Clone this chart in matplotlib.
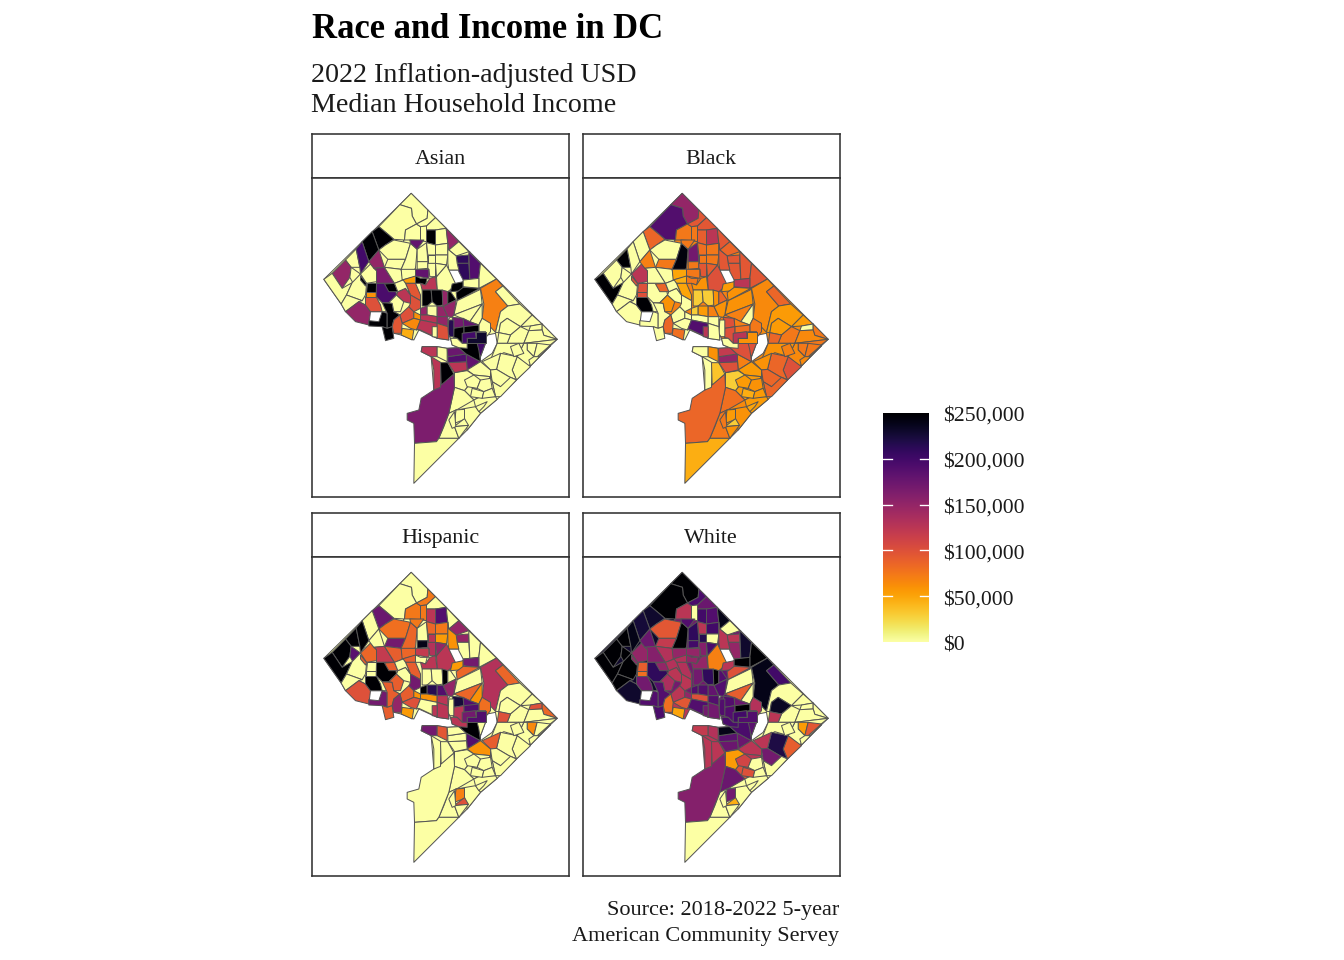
import numpy as np
import matplotlib
matplotlib.use('Agg')
import matplotlib.pyplot as plt
from matplotlib.collections import PolyCollection
from matplotlib.colors import Normalize

plt.rcParams['font.family'] = ['Liberation Serif', 'DejaVu Sans']

# Larger areas drawn first, they fill whatever the tract outlines below leave open
base_areas = [
    [(268,74),(320,130),(285,238),(278,300),(262,335),(245,370),(250,395),(215,395),(180,395),(165,375),(145,365),(105,395),(92,372),(40,298)],
    [(302,40),(478,216),(470,260),(445,270),(415,270),(420,335),(412,380),(380,420),(330,420),(275,430),(268,405),(250,395),(262,335),(278,300),(285,238),(268,74)],
    [(458,305),(478,216),(558,296),(740,478),(720,497),(660,558),(618,600),(560,658),(510,700),(470,750),(445,775),(432,740),(415,700),(432,622),(432,578),(470,570),(510,545),(545,520),(560,490),(555,460),(530,465),(515,415),(505,325)],
    [(420,335),(458,305),(505,325),(515,415),(525,455),(527,475),(525,490),(510,530),(510,545),(470,520),(445,503),(425,495),(420,475),(412,460),(412,420),(425,405)],
    [(370,630),(362,530),(332,515),(335,500),(380,500),(410,505),(445,503),(470,520),(470,570),(432,578),(430,582)],
    [(245,440),(250,420),(268,405),(330,420),(412,420),(415,480),(380,475),(325,450),(310,480),(272,465),(250,460)],
]
asian_base = [0, 0, 0, 0, 0, 0]
black_base = [0, 70, 65, 70, 0, 0]
hispanic_base = [0, 0, 0, 0, 0, 0]
white_base = [230, 170, 0, 180, 125, 125]

# Rough census tract outlines for DC
tracts = [
    # north west
    [(302,40),(352,90),(350,115),(318,132),(305,108),(303,85),(268,74)],
    [(268,74),(303,85),(305,108),(318,132),(285,150),(282,180),(250,178),(235,165),(205,140)],
    [(185,155),(205,140),(235,165),(250,178),(225,195),(205,210)],
    [(155,185),(185,155),(205,210),(175,245)],
    [(105,240),(137,207),(148,262),(122,262)],
    [(137,207),(155,185),(175,245),(150,282),(148,262)],
    [(65,280),(105,240),(122,262),(118,292),(95,325)],
    [(40,298),(65,280),(95,325),(125,308),(108,345),(92,372)],
    [(122,262),(150,282),(128,310),(118,292)],
    [(125,308),(150,282),(168,315),(165,345),(155,362),(108,345)],
    # west
    [(92,372),(108,345),(155,362),(145,365),(105,395)],
    [(105,395),(145,365),(165,375),(180,395),(175,435),(135,425)],
    [(175,422),(205,425),(215,395),(230,400),(230,445),(215,440),(175,438)],
    [(215,368),(245,370),(250,395),(268,405),(250,420),(245,440),(230,445),(230,400)],
    [(215,440),(230,445),(245,440),(250,475),(225,482)],
    [(165,350),(197,350),(210,375),(215,395),(205,395),(180,395),(165,375)],
    [(165,335),(197,335),(197,350),(165,350)],
    [(168,308),(197,308),(197,335),(165,335)],
    [(150,282),(180,252),(198,272),(198,305),(168,310)],
    [(150,288),(168,310),(165,318),(150,300)],
    # upper north west
    [(175,245),(205,210),(222,262),(190,265),(180,252)],
    [(190,265),(222,262),(252,310),(198,310),(198,272)],
    [(198,310),(252,310),(258,345),(235,368),(215,368),(197,350)],
    [(222,312),(252,310),(262,335),(235,335)],
    [(205,210),(225,195),(250,180),(300,190),(285,238),(232,238)],
    [(232,238),(285,238),(272,268),(222,262)],
    [(222,262),(272,268),(278,300),(252,310)],
    [(300,190),(320,208),(315,265),(285,295),(278,300),(272,268),(285,238)],
    [(285,150),(318,132),(330,140),(330,182),(298,180),(282,180)],
    [(350,115),(352,90),(375,113),(348,138),(330,140),(318,132)],
    # north
    [(330,140),(348,138),(348,185),(330,182)],
    [(298,180),(340,180),(320,208),(300,190)],
    [(348,138),(375,113),(407,145),(375,150),(348,150)],
    [(348,150),(375,150),(375,195),(348,188)],
    [(375,150),(407,145),(412,190),(375,195)],
    [(407,145),(445,185),(415,210),(412,190)],
    [(445,185),(475,215),(437,228),(415,210)],
    [(437,228),(475,225),(475,250),(440,250)],
    [(440,250),(475,250),(478,298),(458,300),(445,275)],
    [(475,215),(510,250),(505,295),(478,298),(475,225)],
    # north centre
    [(510,250),(558,297),(505,325),(505,295)],
    [(320,208),(348,188),(352,245),(320,245)],
    [(348,188),(375,195),(375,225),(352,225)],
    [(375,195),(412,190),(412,225),(375,225)],
    [(352,225),(375,225),(375,250),(352,250)],
    [(375,225),(412,225),(408,255),(375,250)],
    [(412,190),(415,210),(437,228),(440,250),(445,270),(415,270),(412,250)],
    [(320,245),(352,245),(352,265),(320,268)],
    [(352,250),(375,250),(375,290),(358,290),(355,268),(352,265)],
    [(378,290),(408,255),(437,315),(412,335),(380,330)],
    # downtown
    [(375,250),(408,255),(378,290)],
    [(272,268),(315,268),(315,290),(275,300)],
    [(275,300),(315,288),(315,310),(285,310)],
    [(315,268),(355,268),(355,295),(315,288)],
    [(315,288),(330,295),(350,295),(345,315),(330,310),(315,310)],
    [(285,310),(315,310),(330,345),(330,362),(300,345)],
    [(330,310),(345,315),(358,295),(375,290),(380,330),(362,330),(350,330),(335,330)],
    [(335,330),(362,330),(365,365),(350,378),(335,378)],
    [(362,330),(395,330),(398,375),(380,378),(365,365)],
    [(395,330),(412,335),(412,372),(397,380)],
    # north east
    [(412,335),(420,335),(437,360),(412,372)],
    [(420,335),(425,312),(458,305),(458,332)],
    [(458,300),(478,298),(505,295),(505,325),(458,320)],
    [(458,322),(508,325),(440,362),(437,338)],
    [(440,362),(510,328),(515,372),(430,405)],
    [(510,325),(558,297),(577,318),(555,335),(592,378),(570,395),(555,457),(515,415),(520,372)],
    [(555,335),(577,318),(628,372),(592,378)],
    [(628,372),(665,405),(630,440),(590,415),(570,430),(565,458),(555,457),(570,395),(592,378)],
    [(590,415),(630,440),(600,465),(565,458),(570,430)],
    [(630,440),(665,405),(695,432),(660,438)],
    # east point
    [(660,438),(695,432),(695,450),(655,452)],
    [(695,432),(740,478),(700,466),(695,450)],
    [(600,465),(630,440),(655,452),(640,490),(590,490)],
    [(655,452),(695,450),(700,466),(740,478),(640,490)],
    [(565,458),(600,465),(590,490),(560,490)],
    [(640,490),(740,478),(700,510),(665,500)],
    [(650,490),(680,490),(670,530),(650,510)],
    [(680,490),(720,495),(680,530),(670,530)],
    [(640,490),(650,490),(650,510),(670,530),(655,560),(620,530)],
    [(620,530),(660,560),(618,600),(605,570)],
    # south east
    [(670,530),(685,530),(720,497),(660,558),(655,540)],
    [(560,490),(640,490),(620,530),(580,518),(540,540)],
    [(570,520),(620,530),(605,570),(618,600),(595,590),(558,568)],
    [(515,545),(570,520),(558,568),(540,570)],
    [(467,522),(510,545),(470,570)],
    [(470,570),(510,545),(540,570),(540,590),(490,585)],
    [(540,570),(558,568),(595,590),(618,600),(600,618),(570,620),(545,605)],
    [(545,605),(570,620),(600,592),(618,600),(570,650),(555,650)],
    [(432,578),(470,572),(490,585),(480,610),(462,632),(432,622)],
    [(480,610),(490,585),(540,590),(520,620),(490,625)],
    # far south
    [(520,620),(540,590),(545,605),(555,650),(510,650)],
    [(462,632),(480,610),(490,625),(520,620),(510,650),(490,660)],
    [(432,622),(462,632),(490,660),(438,690),(415,700)],
    [(490,660),(510,650),(555,650),(560,658),(510,700),(495,680)],
    [(438,690),(495,680),(510,700),(470,750),(462,715),(438,720)],
    [(436,690),(462,688),(462,718),(432,730)],
    [(430,740),(462,716),(474,736)],
    [(415,700),(436,690),(432,740),(445,775),(385,775),(400,740)],
    [(432,740),(474,736),(445,775)],
    [(370,630),(430,582),(432,622),(415,700),(385,775),(378,785),(312,790),(310,730),(290,720),(290,700),(325,690),(332,655)],
    # south tip and the bank of the river
    [(312,790),(378,785),(385,775),(445,775),(310,910)],
    [(332,515),(335,500),(380,500),(380,530),(362,530)],
    [(380,500),(410,505),(410,545),(380,530)],
    [(362,530),(392,548),(390,622),(370,630),(370,570)],
    [(390,548),(412,548),(430,582),(392,615)],
    [(412,548),(468,545),(470,570),(432,578)],
    [(412,530),(467,522),(468,545),(412,548)],
    [(410,505),(445,503),(467,522),(412,530)],
    [(470,490),(525,490),(510,530),(497,505),(470,505)],
    [(445,503),(470,490),(500,490),(505,510),(510,545),(467,522)],
    # above the Anacostia
    [(430,405),(515,372),(478,425)],
    [(478,425),(515,372),(515,415),(505,435)],
    [(425,412),(458,415),(460,440),(430,445)],
    [(458,415),(478,425),(505,435),(465,445),(460,440)],
    [(505,435),(515,415),(540,430),(540,455),(528,470),(525,455),(505,455)],
    [(460,440),(505,435),(505,455),(460,460)],
    [(430,445),(460,440),(460,460),(455,490),(440,475),(428,472)],
    [(415,420),(430,420),(430,470),(418,470),(412,460)],
    [(455,460),(495,455),(497,475),(470,475),(470,490),(455,490)],
    [(495,455),(525,455),(525,490),(470,490),(470,475),(497,475)],
    # west centre
    [(420,475),(440,475),(455,490),(470,490),(470,505),(445,503),(425,495)],
    [(268,405),(295,380),(310,395),(310,415),(275,430)],
    [(235,368),(258,345),(280,365),(270,395),(250,395),(245,370)],
    [(262,335),(285,325),(300,345),(300,370),(280,365),(258,345)],
    [(300,345),(330,362),(330,385),(310,395),(295,380),(300,370)],
    [(330,385),(350,378),(350,405),(330,405)],
    [(350,378),(380,378),(380,410),(350,405)],
    [(380,378),(398,380),(412,410),(380,410)],
    [(398,380),(412,372),(437,360),(430,405),(425,412),(412,410)],
    [(310,395),(330,405),(330,420),(310,415)],
    # along the Potomac
    [(330,405),(350,405),(380,410),(380,430),(330,420)],
    [(380,410),(412,410),(412,440),(380,430)],
    [(275,430),(310,415),(330,420),(318,450),(300,445)],
    [(275,445),(310,450),(305,480),(272,465)],
    [(245,440),(250,420),(268,405),(275,430),(272,460),(250,460)],
    [(318,450),(330,420),(380,430),(380,475),(372,470),(325,448)],
    [(380,430),(412,440),(415,480),(380,475)],
    [(365,440),(380,440),(380,472),(365,470)],
    [(252,310),(278,300),(285,310),(300,345),(285,325),(262,335)],
    # small ones in the far south
    [(462,600),(490,585),(510,600),(500,625),(470,620)],
    [(510,600),(540,595),(545,625),(520,635),(500,625)],
    [(485,625),(520,635),(515,655),(480,650)],
    [(520,635),(545,625),(555,650),(515,655)],
    [(495,680),(530,665),(520,680),(505,695)],
    [(415,720),(432,695),(436,740),(425,745)],
    [(600,500),(625,490),(640,520),(610,530)],
]

# Median household income per tract, in thousands of dollars, same order as tracts
asian = [
    0, 0, 250, 250, 0, 200, 150, 0, 0, 0,
    0, 150, 250, 250, 250, 100, 60, 250, 0, 250,
    150, 165, 195, 250, 0, 0, 0, 0, 0, 0,
    0, 180, 0, 250, 0, 150, 0, 210, 210, 190,
    0, 0, 0, 0, 0, 0, 0, 0, 0, 0,
    0, 0, 55, 180, 250, 95, 125, 250, 250, 150,
    250, 250, 0, 250, 0, 70, 0, 0, 0, 0,
    0, 0, 0, 0, 0, 0, 0, 0, 0, 0,
    0, 0, 0, 0, 180, 0, 0, 0, 0, 0,
    0, 0, 0, 0, 0, 0, 0, 0, 0, 165,
    0, 125, 0, 125, 250, 125, 190, 175, 200, 250,
    0, 0, 170, 180, 0, 250, 250, 215, 200, 230,
    0, 100, 0, 125, 100, 150, 0, 150, 150, 60,
    125, 150, 65, 45, 95, 125, 100, 0, 0,
    0, 0, 0, 0, 0, 0, 0,
]
black = [
    150, 190, 85, 0, 250, 0, 0, 250, 0, 0,
    0, 0, 0, 0, 0, 250, 100, 100, 125, 100,
    70, 0, 0, 85, 0, 75, 0, 245, 75, 95,
    75, 75, 95, 90, 125, 95, 85, 95, 95, 95,
    95, 170, 80, 75, 75, 75, 95, 75, 95, 100,
    90, 50, 45, 75, 75, 50, 60, 30, 30, 60,
    85, 55, 125, 60, 60, 65, 85, 55, 55, 55,
    0, 75, 75, 65, 85, 75, 75, 75, 65, 100,
    65, 60, 85, 60, 70, 55, 85, 85, 30, 55,
    60, 55, 80, 55, 60, 55, 30, 75, 60, 85,
    45, 0, 60, 0, 35, 100, 150, 120, 100, 100,
    70, 0, 100, 70, 75, 80, 100, 0, 125, 60,
    0, 0, 60, 0, 0, 30, 55, 70, 60, 0,
    0, 0, 0, 80, 85, 190, 0, 125, 0,
    55, 60, 45, 55, 50, 75, 70,
]
hispanic = [
    0, 0, 175, 0, 250, 250, 250, 250, 185, 0,
    0, 100, 170, 90, 90, 250, 0, 0, 85, 90,
    0, 120, 250, 90, 80, 170, 90, 85, 75, 75,
    75, 75, 0, 125, 190, 0, 150, 150, 0, 0,
    0, 0, 85, 75, 125, 55, 60, 240, 130, 125,
    150, 85, 90, 120, 0, 90, 125, 0, 0, 250,
    0, 55, 170, 85, 0, 130, 85, 0, 0, 0,
    100, 85, 0, 0, 100, 0, 65, 0, 0, 0,
    0, 0, 0, 90, 190, 60, 0, 0, 0, 0,
    0, 0, 0, 0, 0, 70, 100, 0, 0, 0,
    0, 170, 95, 0, 0, 0, 0, 0, 0, 250,
    85, 60, 225, 190, 80, 190, 125, 0, 170, 190,
    125, 90, 90, 0, 170, 250, 215, 190, 150, 60,
    60, 125, 100, 55, 150, 0, 125, 125, 0,
    0, 0, 0, 0, 0, 0, 0,
]
white = [
    250, 250, 230, 225, 250, 240, 250, 250, 250, 250,
    250, 230, 190, 190, 195, 170, 80, 90, 150, 150,
    175, 160, 210, 150, 95, 120, 130, 250, 125, 195,
    0, 190, 175, 200, 190, 240, 0, 125, 150, 230,
    250, 210, 125, 200, 215, 0, 125, 200, 160, 70,
    195, 150, 130, 150, 150, 130, 150, 170, 210, 250,
    190, 125, 250, 100, 0, 240, 200, 0, 235, 0,
    0, 0, 0, 0, 125, 0, 55, 95, 0, 90,
    0, 0, 220, 125, 175, 125, 170, 0, 55, 125,
    0, 100, 175, 0, 0, 170, 45, 0, 0, 160,
    0, 120, 130, 125, 125, 175, 185, 240, 185, 195,
    90, 0, 190, 175, 130, 250, 190, 190, 200, 190,
    195, 125, 135, 125, 125, 190, 190, 180, 190, 150,
    100, 190, 95, 50, 80, 190, 170, 170, 130,
    110, 0, 100, 0, 0, 0, 0,
]

panel_names = ['Asian', 'Black', 'Hispanic', 'White']
panel_values = [asian_base + asian, black_base + black, hispanic_base + hispanic, white_base + white]
legend_ticks = [0, 50, 100, 150, 200, 250]
legend_labels = ['$0', '$50,000', '$100,000', '$150,000', '$200,000', '$250,000']

W, H = 1344, 960
norm = Normalize(0, 250)
cmap = plt.get_cmap('inferno_r')
fig = plt.figure(figsize=(W / 96, H / 96), dpi=96)


def px_axes(left, top, right, bottom):
    return fig.add_axes([left / W, 1 - bottom / H, (right - left) / W, (bottom - top) / H])


def px_text(x, y, s, **kw):
    fig.text(x / W, 1 - y / H, s, va='center', **kw)


lefts = [311.5, 582.5, 311.5, 582.5]
tops = [134, 134, 513, 513]
for name, vals, left, top in zip(panel_names, panel_values, lefts, tops):
    # strip with the group name
    strip = px_axes(left, top, left + 257, top + 44)
    strip.set_xticks([])
    strip.set_yticks([])
    strip.text(0.5, 0.43, name, transform=strip.transAxes, ha='center', va='center', fontsize=16.5, color='#1a1a1a')
    # map
    ax = px_axes(left, top + 44, left + 257, top + 363)
    coll = PolyCollection(base_areas + tracts, array=np.array(vals, dtype=float), cmap=cmap, norm=norm,
                          edgecolors='#555555', linewidths=0.75)
    ax.add_collection(coll)
    ax.set_xlim(3, 774)
    ax.set_ylim(951, -6)
    ax.set_xticks([])
    ax.set_yticks([])
    for a in (strip, ax):
        for s in a.spines.values():
            s.set_color('#333333')
            s.set_linewidth(1.2)

# Legend
cax = px_axes(883, 413, 929, 642)
cax.imshow(np.linspace(250, 0, 256).reshape(-1, 1), cmap=cmap, norm=norm, aspect='auto',
           extent=[0, 1, 0, 250])
cax.axis('off')
for t in legend_ticks[1:-1]:
    cax.plot([0, 0.2], [t, t], color='white', lw=1)
    cax.plot([0.8, 1], [t, t], color='white', lw=1)
cax.set_xlim(0, 1)
cax.set_ylim(0, 250)
for t, lab in zip(legend_ticks, legend_labels):
    px_text(943, 646 - t * 0.92, lab, ha='left', fontsize=16.3, color='#1a1a1a')

# Titles
px_text(312, 30, 'Race and Income in DC', ha='left', fontsize=26, fontweight='bold', color='black')
px_text(311, 75, '2022 Inflation-adjusted USD', ha='left', fontsize=21, color='#1a1a1a')
px_text(311, 106, 'Median Household Income', ha='left', fontsize=21, color='#1a1a1a')
px_text(839, 911, 'Source: 2018-2022 5-year', ha='right', fontsize=16.7, color='#1a1a1a')
px_text(839, 936, 'American Community Servey', ha='right', fontsize=16.7, color='#1a1a1a')

fig.savefig('out.png', dpi=96)
